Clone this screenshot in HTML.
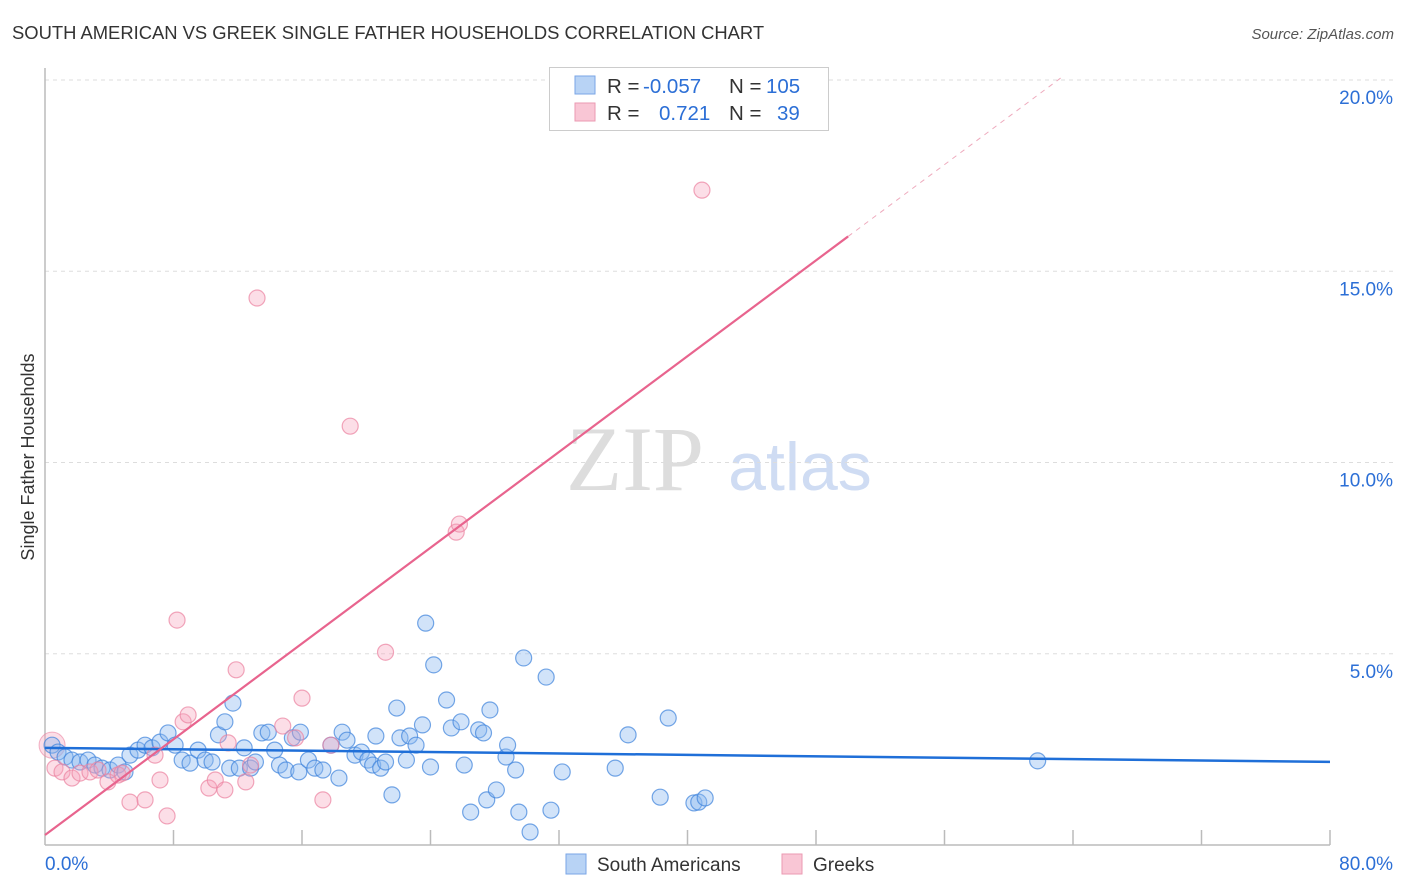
<!DOCTYPE html>
<html><head><meta charset="utf-8"><style>
body{margin:0;background:#fff;font-family:"Liberation Sans",sans-serif;}
svg{display:block}
</style></head><body>
<svg id="chart" width="1406" height="892">
<text x="12" y="39" font-size="18.4" fill="#333">SOUTH AMERICAN VS GREEK SINGLE FATHER HOUSEHOLDS CORRELATION CHART</text>
<text x="1394" y="39" font-size="15" fill="#555" text-anchor="end" font-style="italic">Source: ZipAtlas.com</text>
<text transform="translate(34,457) rotate(-90)" font-size="18" fill="#333" text-anchor="middle">Single Father Households</text>
<g><text x="635" y="490" font-size="92" font-family="Liberation Serif,serif" fill="#ddd" text-anchor="middle">ZIP</text><text x="800" y="490" font-size="68" fill="#cfdcf3" text-anchor="middle">atlas</text></g>
<g id="grid"></g>
<g id="axes"></g>
<g id="marks"></g>
<g id="lines"></g>
<g>
<rect x="549.5" y="67.5" width="279" height="63" fill="#fff" stroke="#ccc"/>
<rect x="575" y="76" width="20" height="18" fill="#b8d3f5" stroke="#7aa6e6"/>
<rect x="575" y="103" width="20" height="18" fill="#f9c6d5" stroke="#eb9ab2"/>
<text x="607" y="93" font-size="20.5" fill="#333">R = <tspan x="643" fill="#2c6fd6">-0.057</tspan><tspan x="729">N = </tspan><tspan x="766" fill="#2c6fd6">105</tspan></text>
<text x="607" y="120" font-size="20.5" fill="#333">R = <tspan x="659" fill="#2c6fd6">0.721</tspan><tspan x="729">N = </tspan><tspan x="777" fill="#2c6fd6">39</tspan></text>
</g>
<g>
<rect x="566" y="854" width="20" height="20" fill="#b8d3f5" stroke="#7aa6e6"/>
<text x="597" y="871" font-size="19" fill="#333">South Americans</text>
<rect x="782" y="854" width="20" height="20" fill="#f9c6d5" stroke="#eb9ab2"/>
<text x="813" y="871" font-size="19" fill="#333">Greeks</text>
</g>
</svg>
<script>
const yTicks=[5,10,15,20];
const yTickLabels=["5.0%","10.0%","15.0%","20.0%"];
const xTickVals=[8,16,24,32,40,48,56,64,72,80];
const blueX=[0.44,0.81,1.25,1.68,2.18,2.68,3.11,3.55,4.05,4.55,4.98,5.29,5.79,6.23,6.67,7.16,7.66,8.10,8.54,9.03,9.53,9.97,10.4,10.8,11.2,11.5,11.7,12.1,12.4,12.8,13.1,13.5,13.9,14.3,14.6,15.0,15.4,15.8,15.9,16.4,16.8,17.3,17.8,18.3,18.5,18.8,19.3,19.7,20.1,20.4,20.6,20.9,21.2,21.6,21.9,22.1,22.5,22.7,23.1,23.5,23.7,24.0,24.2,25.0,25.3,25.9,26.1,26.5,27.0,27.3,27.5,27.7,28.1,28.7,28.8,29.3,29.5,29.8,30.2,31.2,31.5,32.2,35.5,36.3,38.3,38.8,40.4,40.7,41.1,61.8];
const blueY=[2.61,2.43,2.30,2.22,2.17,2.22,2.09,2.01,1.96,2.09,1.91,2.35,2.48,2.61,2.54,2.69,2.93,2.61,2.22,2.14,2.48,2.22,2.17,2.88,3.22,2.01,3.71,2.01,2.54,2.01,2.17,2.93,2.95,2.48,2.09,1.96,2.80,1.91,2.95,2.22,2.01,1.96,2.61,1.75,2.95,2.74,2.35,2.43,2.22,2.09,2.85,2.01,2.17,1.31,3.58,2.80,2.22,2.85,2.61,3.14,5.80,2.04,4.71,3.79,3.06,3.22,2.09,0.86,3.01,2.93,1.18,3.53,1.44,2.30,2.61,1.96,0.86,4.89,0.34,4.39,0.91,1.91,2.01,2.88,1.25,3.32,1.10,1.12,1.23,2.20];
const pinkX=[0.62,1.06,1.68,2.18,2.80,3.30,3.92,4.55,4.80,5.29,6.23,6.85,7.16,7.60,8.22,8.60,8.91,10.2,10.6,11.2,11.4,11.9,12.5,12.8,13.2,14.8,15.6,16.0,17.3,17.8,19.0,21.2,25.6,25.8,40.9];
const pinkY=[2.01,1.91,1.75,1.88,1.91,1.96,1.65,1.83,1.88,1.12,1.18,2.35,1.70,0.76,5.88,3.22,3.40,1.49,1.70,1.44,2.67,4.58,1.65,2.09,14.3,3.11,2.80,3.84,1.18,2.61,10.95,5.04,8.18,8.39,17.12];
const blueFit=[-0.0046,2.54];
const pinkFit=[0.313,0.26];
const NS="http://www.w3.org/2000/svg";
const xs=v=>45+v/80*1285, ys=v=>845-v*38.25;
function mk(t,a,p){const e=document.createElementNS(NS,t);for(const k in a)e.setAttribute(k,a[k]);p.appendChild(e);return e;}
const grid=document.getElementById('grid'),axes=document.getElementById('axes'),marks=document.getElementById('marks'),lines=document.getElementById('lines');
yTicks.forEach((v,i)=>{
 const l=mk('line',{x1:45,x2:1395,y1:ys(v),y2:ys(v),stroke:'#ddd','stroke-dasharray':'4,4'},grid);
 
 
 const t=mk('text',{x:1393,y:ys(v)+24,'font-size':19,fill:'#2c6fd6','text-anchor':'end'},grid);
 t.textContent=yTickLabels[i];
 
 
});
const xa=mk('line',{x1:45,x2:1330,y1:845,y2:845,stroke:'#bbb','stroke-width':1.5},axes);


const ya=mk('line',{x1:45,x2:45,y1:68,y2:845,stroke:'#bbb','stroke-width':1.5},axes);


xTickVals.forEach(v=>{const t=mk('line',{x1:xs(v),x2:xs(v),y1:830,y2:845,stroke:'#bbb','stroke-width':1.5},axes);
 
 });
const x0=mk('text',{x:45,y:870,'font-size':19,fill:'#2c6fd6'},axes);x0.textContent='0.0%';


const x1=mk('text',{x:1393,y:870,'font-size':19,fill:'#2c6fd6','text-anchor':'end'},axes);x1.textContent='80.0%';


const bo=mk('circle',{cx:xs(0.44),cy:ys(2.61),r:13,fill:'rgba(245,160,185,0.35)',stroke:'rgba(235,130,160,0.6)'},marks);


blueX.forEach((x,i)=>{const c=mk('circle',{cx:xs(x),cy:ys(blueY[i]),r:8,fill:'rgba(140,185,240,0.4)',stroke:'rgba(60,130,220,0.7)','stroke-width':1.2},marks);
 
 });
pinkX.forEach((x,i)=>{const c=mk('circle',{cx:xs(x),cy:ys(pinkY[i]),r:8,fill:'rgba(245,160,185,0.35)',stroke:'rgba(235,130,160,0.7)','stroke-width':1.2},marks);
 
 });
const bl=mk('line',{x1:xs(0),y1:ys(blueFit[1]),x2:xs(80),y2:ys(blueFit[1]+80*blueFit[0]),stroke:'#1f6fd8','stroke-width':2.5},lines);


const pl=mk('line',{x1:xs(0),y1:ys(pinkFit[1]),x2:xs(50),y2:ys(pinkFit[1]+50*pinkFit[0]),stroke:'#e8648e','stroke-width':2.2},lines);


const xe=(20.1-pinkFit[1])/pinkFit[0];
const pd=mk('line',{x1:xs(50),y1:ys(pinkFit[1]+50*pinkFit[0]),x2:xs(xe),y2:ys(20.1),stroke:'#eeaabd','stroke-width':1,'stroke-dasharray':'5,5'},lines);


</script>
</body></html>
